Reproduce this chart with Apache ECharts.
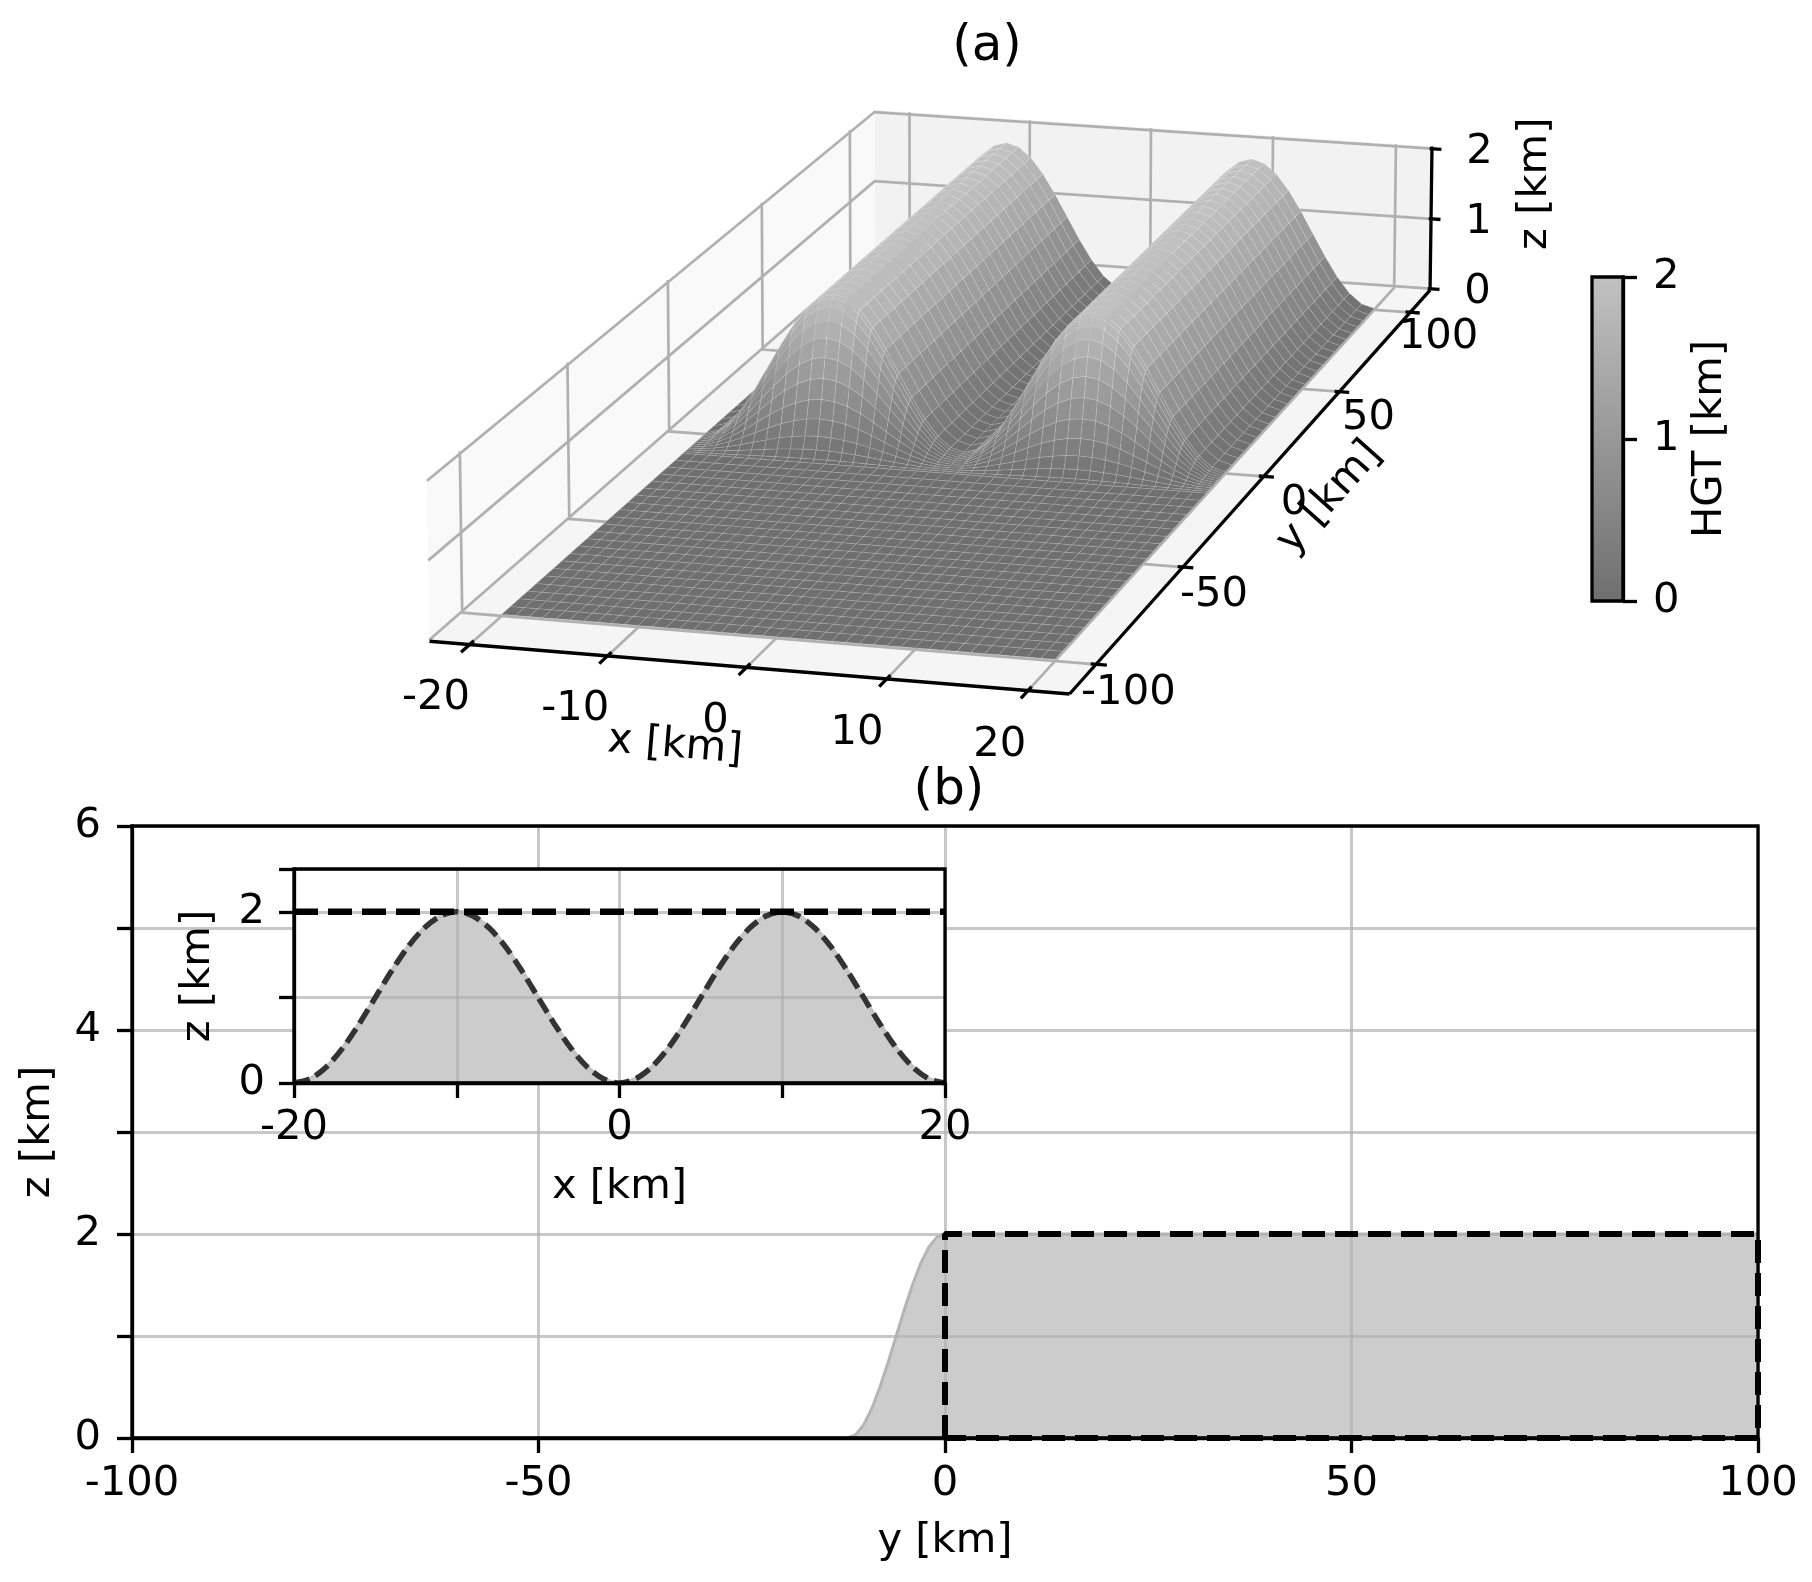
<!DOCTYPE html>
<html lang="en">
<head>
<meta charset="UTF-8" />
<title>Terrain (a) 3D view, (b) cross sections</title>
<script src="https://cdn.jsdelivr.net/npm/echarts@6.0.0/dist/echarts.min.js"></script>
<style>
  html, body { margin: 0; padding: 0; background: #ffffff; }
  #chart { width: 1812px; height: 1582px; }
</style>
</head>
<body>
<div id="chart"></div>
<script>
// ---------------- values ----------------
// cross-ridge profile (inset of b): x [km] -> height [km]
var ridgeX = [-20, -19, -18, -17, -16, -15, -14, -13, -12, -11, -10, -9, -8, -7, -6, -5, -4, -3, -2, -1, 0,
              1, 2, 3, 4, 5, 6, 7, 8, 9, 10, 11, 12, 13, 14, 15, 16, 17, 18, 19, 20];
var ridgeH = [0, 0.05, 0.19, 0.41, 0.69, 1.0, 1.31, 1.59, 1.81, 1.95, 2.0, 1.95, 1.81, 1.59, 1.31, 1.0, 0.69, 0.41, 0.19, 0.05, 0,
              0.05, 0.19, 0.41, 0.69, 1.0, 1.31, 1.59, 1.81, 1.95, 2.0, 1.95, 1.81, 1.59, 1.31, 1.0, 0.69, 0.41, 0.19, 0.05, 0];
// along-ridge profile (b): y [km] -> height [km]
var rampY = [-100, -12, -11, -10, -9, -8, -7, -6, -5, -4, -3, -2, -1, 0, 100];
var rampH = [0, 0, 0.03, 0.13, 0.29, 0.5, 0.74, 1.0, 1.26, 1.5, 1.71, 1.87, 1.97, 2.0, 2.0];
var crestH = 2;
// dashed box of (b)
var boxY = [0, 0, 100, 100, 0];
var boxZ = [0, 2, 2, 0, 0];
// ticks of the 3D axes
var xTicks3d = [-20, -10, 0, 10, 20];
var yTicks3d = [-100, -50, 0, 50, 100];
var zTicks3d = [0, 1, 2];

// ---------------- 3D view (perspective like mplot3d) ----------------
var VIEW_ELEV = 15, VIEW_AZIM = -74.5, VIEW_DIST = 10;
var BOX = [0.68, 1.655, 0.17];
var xLim = [-22.92, 22.92], yLim = [-114.58, 114.58], zLim = [-0.02, 2.03];

var el = VIEW_ELEV * Math.PI / 180, az = VIEW_AZIM * Math.PI / 180;
var W = [Math.cos(el) * Math.cos(az), Math.cos(el) * Math.sin(az), Math.sin(el)];
var U = [-Math.sin(az), Math.cos(az), 0];
var V = [-Math.sin(el) * Math.cos(az), -Math.sin(el) * Math.sin(az), Math.cos(el)];

function proj(x, y, z) {
  var p = [((x - xLim[0]) / (xLim[1] - xLim[0]) - 0.5) * BOX[0],
           ((y - yLim[0]) / (yLim[1] - yLim[0]) - 0.5) * BOX[1],
           ((z - zLim[0]) / (zLim[1] - zLim[0]) - 0.5) * BOX[2]];
  var depth = VIEW_DIST - (p[0] * W[0] + p[1] * W[1] + p[2] * W[2]);
  return [(p[0] * U[0] + p[1] * U[1]) / depth,
          (p[0] * V[0] + p[1] * V[1] + p[2] * V[2]) / depth,
          depth];
}
function P(x, y, z) { var q = proj(x, y, z); return [q[0], q[1]]; }

// extent of the projected box -> hidden axes of the 3D grid
var uMin = Infinity, uMax = -Infinity, vMin = Infinity, vMax = -Infinity;
[xLim[0], xLim[1]].forEach(function (x) {
  [yLim[0], yLim[1]].forEach(function (y) {
    [zLim[0], zLim[1]].forEach(function (z) {
      var q = proj(x, y, z);
      uMin = Math.min(uMin, q[0]); uMax = Math.max(uMax, q[0]);
      vMin = Math.min(vMin, q[1]); vMax = Math.max(vMax, q[1]);
    });
  });
});

var x0 = xLim[0], x1 = xLim[1], y0 = yLim[0], y1 = yLim[1], z0 = zLim[0], z1 = zLim[1];
var gridGrey = '#b0b0b0';
var font = '"DejaVu Sans", sans-serif';
var tickFont = '41.7px ' + font;

// panes
var panes = [
  { pts: [P(x0, y0, z0), P(x0, y1, z0), P(x0, y1, z1), P(x0, y0, z1)], fill: '#f9f9f9' },
  { pts: [P(x0, y1, z0), P(x1, y1, z0), P(x1, y1, z1), P(x0, y1, z1)], fill: '#f2f2f2' },
  { pts: [P(x0, y0, z0), P(x1, y0, z0), P(x1, y1, z0), P(x0, y1, z0)], fill: '#f5f5f5' }
];

// grid lines on the panes
var paneLines = [];
xTicks3d.forEach(function (x) {
  paneLines.push({ pts: [P(x, y0, z0), P(x, y1, z0), P(x, y1, z1)], stroke: gridGrey, lw: 2.7 });
});
yTicks3d.forEach(function (y) {
  paneLines.push({ pts: [P(x1, y, z0), P(x0, y, z0), P(x0, y, z1)], stroke: gridGrey, lw: 2.7 });
});
zTicks3d.forEach(function (z) {
  paneLines.push({ pts: [P(x0, y0, z), P(x0, y1, z), P(x1, y1, z)], stroke: gridGrey, lw: 2.7 });
});

// axis lines, ticks and labels
var dX = (x1 - x0) / 12, dY = (y1 - y0) / 12;
var axes3d = [
  { pts: [P(x0, y0, z0), P(x1, y0, z0)], stroke: '#000', lw: 3.3 },
  { pts: [P(x1, y0, z0), P(x1, y1, z0)], stroke: '#000', lw: 3.3 },
  { pts: [P(x1, y1, z0), P(x1, y1, z1)], stroke: '#000', lw: 3.3 }
];
xTicks3d.forEach(function (x) {
  axes3d.push({ pts: [P(x, y0 - 0.2 * dY, z0), P(x, y0 + 0.1 * dY, z0)], stroke: '#000', lw: 3.3 });
  axes3d.push({ pts: [P(x, y0 - 15, z0 - 0.29)], text: String(x), font: tickFont });
});
yTicks3d.forEach(function (y) {
  axes3d.push({ pts: [P(x1 + 0.2 * dX, y, z0), P(x1 - 0.1 * dX, y, z0)], stroke: '#000', lw: 3.3 });
  axes3d.push({ pts: [P(x1 + 2.3, y, z0 - 0.33)], text: String(y), font: tickFont });
});
zTicks3d.forEach(function (z) {
  axes3d.push({ pts: [P(x1 + 0.2 * dX, y1, z), P(x1 - 0.05 * dX, y1, z)], stroke: '#000', lw: 3.3 });
  axes3d.push({ pts: [P(x1 + 3.85, y1, z)], text: String(z), font: tickFont });
});
axes3d.push({ pts: [P(0, y0 - 34, z0 - 0.1)], text: 'x [km]', font: tickFont, along: [P(x0, y0, z0), P(x1, y0, z0)] });
axes3d.push({ pts: [P(x1 + 5, 0, z0 - 0.22)], text: 'y [km]', font: tickFont, along: [P(x1, y0, z0), P(x1, y1, z0)] });
axes3d.push({ pts: [P(x1 + 8.4, y1, 1.6)], text: 'z [km]', font: tickFont, rot: Math.PI / 2 });

// surface cells
var cmapLo = 111, cmapSlope = 41;
function grey(z) { var g = Math.round(cmapLo + cmapSlope * z); return 'rgb(' + g + ',' + g + ',' + g + ')'; }

var surfRows = [];
for (var yy = rampY[0]; yy < rampY[1]; yy += 4) surfRows.push([yy, rampH[0] / crestH]);
for (var k = 1; k < rampY.length - 1; k++) surfRows.push([rampY[k], rampH[k] / crestH]);
for (var yy2 = rampY[rampY.length - 2] + 4; yy2 <= rampY[rampY.length - 1]; yy2 += 4) surfRows.push([yy2, rampH[rampH.length - 1] / crestH]);

var cells = [];
for (var r = 0; r < surfRows.length - 1; r++) {
  for (var c = 0; c < ridgeX.length - 1; c++) {
    var ya = surfRows[r][0], yb = surfRows[r + 1][0], fa = surfRows[r][1], fb = surfRows[r + 1][1];
    var xa = ridgeX[c], xb = ridgeX[c + 1], ha = ridgeH[c], hb = ridgeH[c + 1];
    var zs = [ha * fa, hb * fa, hb * fb, ha * fb];
    var q = [proj(xa, ya, zs[0]), proj(xb, ya, zs[1]), proj(xb, yb, zs[2]), proj(xa, yb, zs[3])];
    cells.push({
      pts: q.map(function (t) { return [t[0], t[1]]; }),
      fill: grey((zs[0] + zs[1] + zs[2] + zs[3]) / 4),
      stroke: 'rgba(255,255,255,0.16)', lw: 0.8,
      depth: (q[0][2] + q[1][2] + q[2][2] + q[3][2]) / 4
    });
  }
}
cells.sort(function (a, b) { return b.depth - a.depth; });

function shapeSeries(list, z) {
  return {
    type: 'custom', xAxisIndex: 2, yAxisIndex: 2, z: z, silent: true, animation: false, clip: false,
    data: list.map(function (s) { return s.pts[0]; }),
    renderItem: function (params, api) {
      var s = list[params.dataIndex];
      var pts = s.pts.map(function (p) { return api.coord(p); });
      if (s.text) {
        var rot = s.rot || 0;
        if (s.along) {
          var a = api.coord(s.along[0]), b = api.coord(s.along[1]);
          rot = -Math.atan2(b[1] - a[1], b[0] - a[0]);
        }
        return { type: 'text', x: pts[0][0], y: pts[0][1], rotation: rot, z2: params.dataIndex,
          style: { text: s.text, fill: '#000', font: s.font, align: 'center', verticalAlign: 'middle' } };
      }
      if (s.fill) {
        return { type: 'polygon', z2: params.dataIndex, shape: { points: pts },
          style: { fill: s.fill, stroke: s.stroke || null, lineWidth: s.lw || 0 } };
      }
      return { type: 'polyline', z2: params.dataIndex, shape: { points: pts },
        style: { stroke: s.stroke, lineWidth: s.lw, fill: null, lineCap: 'butt' } };
    }
  };
}

// ---------------- 2D panels ----------------
var gridLine = { show: true, lineStyle: { color: 'rgba(176,176,176,0.7)', width: 3 } };
var blackLine = { show: true, onZero: false, lineStyle: { color: '#000', width: 3.3 } };
var ticks = { show: true, inside: false, length: 15, lineStyle: { color: '#000', width: 3.3 } };
var labelStyle = { color: '#000', fontSize: 41.7, fontFamily: font };
var nameStyle = { color: '#000', fontSize: 41.7, fontFamily: font };

var mainRect = { left: 132, top: 826, width: 1626, height: 612 };
var insetRect = { left: 294, top: 869, width: 651, height: 214 };

var option = {
  backgroundColor: '#ffffff',
  animation: false,
  grid: [
    Object.assign({ show: false, outerBoundsMode: 'none' }, mainRect),
    Object.assign({ show: true, backgroundColor: '#ffffff', borderWidth: 0, z: 6, outerBoundsMode: 'none' }, insetRect),
    { left: 427, top: 110, width: 1005, height: 584, show: false, outerBoundsMode: 'none' },
    { left: 1592, top: 277, width: 31, height: 324, show: true, borderColor: '#000', borderWidth: 3.3, z: 3, outerBoundsMode: 'none' },
    // frames drawn above the grid lines
    Object.assign({ show: true, borderColor: '#000', borderWidth: 3.3, z: 5, outerBoundsMode: 'none' }, mainRect),
    Object.assign({ show: true, borderColor: '#000', borderWidth: 3.3, z: 10, outerBoundsMode: 'none' }, insetRect)
  ],
  xAxis: [
    { gridIndex: 0, type: 'value', min: -100, max: 100, interval: 50, z: 3,
      axisLine: blackLine, axisTick: ticks, splitLine: gridLine,
      axisLabel: Object.assign({ margin: 25 }, labelStyle),
      name: 'y [km]', nameLocation: 'middle', nameGap: 82, nameTextStyle: nameStyle },
    { gridIndex: 1, type: 'value', min: -20, max: 20, interval: 10, z: 8,
      axisLine: blackLine, axisTick: ticks, splitLine: gridLine,
      axisLabel: Object.assign({ margin: 24, formatter: function (v) { return v % 20 === 0 ? String(v) : ''; } }, labelStyle),
      name: 'x [km]', nameLocation: 'middle', nameGap: 83, nameTextStyle: nameStyle },
    { gridIndex: 2, type: 'value', min: uMin, max: uMax, show: false },
    { gridIndex: 3, type: 'value', min: 0, max: 1, show: false }
  ],
  yAxis: [
    { gridIndex: 0, type: 'value', min: 0, max: 6, interval: 1, z: 3,
      axisLine: blackLine, axisTick: ticks, splitLine: gridLine,
      axisLabel: Object.assign({ margin: 31, formatter: function (v) { return v % 2 === 0 ? String(v) : ''; } }, labelStyle),
      name: 'z [km]', nameLocation: 'middle', nameGap: 73, nameRotate: 90, nameTextStyle: nameStyle },
    { gridIndex: 1, type: 'value', min: 0, max: 2.5, interval: 1, z: 8,
      axisLine: blackLine, axisTick: ticks, splitLine: gridLine,
      axisLabel: Object.assign({ margin: 29, formatter: function (v) { return (v === 0 || v === 2) ? String(v) : ''; } }, labelStyle),
      name: 'z [km]', nameLocation: 'middle', nameGap: 75, nameRotate: 90, nameTextStyle: nameStyle },
    { gridIndex: 2, type: 'value', min: vMin, max: vMax, show: false },
    { gridIndex: 3, type: 'value', min: 0, max: 2, interval: 1, position: 'right', z: 4,
      axisLine: blackLine, axisTick: { show: true, inside: false, length: 14, lineStyle: { color: '#000', width: 3.3 } },
      splitLine: { show: false },
      axisLabel: Object.assign({ margin: 30 }, labelStyle),
      name: 'HGT [km]', nameLocation: 'middle', nameGap: 66, nameRotate: 90, nameTextStyle: nameStyle }
  ],
  graphic: [
    { type: 'text', x: 987, y: 47, style: { text: '(a)', font: '50px ' + font, fill: '#000', align: 'center', verticalAlign: 'middle' } },
    { type: 'text', x: 949, y: 791, style: { text: '(b)', font: '50px ' + font, fill: '#000', align: 'center', verticalAlign: 'middle' } }
  ],
  series: [
    // (b) main: terrain along y
    { type: 'line', xAxisIndex: 0, yAxisIndex: 0, z: 2, silent: true, symbol: 'none',
      data: rampY.map(function (y, i) { return [y, rampH[i]]; }),
      lineStyle: { color: '#b5b5b5', width: 3 }, areaStyle: { color: '#cccccc', opacity: 1 } },
    { type: 'line', xAxisIndex: 0, yAxisIndex: 0, z: 5, silent: true, symbol: 'none', clip: false,
      data: boxY.map(function (y, i) { return [y, boxZ[i]]; }),
      lineStyle: { color: '#000', width: 6, type: [23, 10] } },
    // (b) inset: terrain across x
    { type: 'line', xAxisIndex: 1, yAxisIndex: 1, z: 7, silent: true, symbol: 'none', smooth: 0.3,
      data: ridgeX.map(function (x, i) { return [x, ridgeH[i]]; }),
      lineStyle: { color: '#c4c4c4', width: 4 }, areaStyle: { color: '#cccccc', opacity: 1 } },
    { type: 'line', xAxisIndex: 1, yAxisIndex: 1, z: 9, silent: true, symbol: 'none', smooth: 0.3,
      data: ridgeX.map(function (x, i) { return [x, ridgeH[i]]; }),
      lineStyle: { color: '#333333', width: 5.5, type: [16, 7] } },
    { type: 'line', xAxisIndex: 1, yAxisIndex: 1, z: 9, silent: true, symbol: 'none', clip: false,
      data: [[ridgeX[0], crestH], [ridgeX[ridgeX.length - 1], crestH]],
      lineStyle: { color: '#000', width: 6.5, type: [24, 10] } },
    // colour bar
    { type: 'custom', xAxisIndex: 3, yAxisIndex: 3, z: 2, silent: true,
      data: [[0, 0, 1, crestH]],
      renderItem: function (params, api) {
        var a = api.coord([api.value(0), api.value(1)]);
        var b = api.coord([api.value(2), api.value(3)]);
        return { type: 'rect', shape: { x: a[0], y: b[1], width: b[0] - a[0], height: a[1] - b[1] },
          style: { fill: new echarts.graphic.LinearGradient(0, 1, 0, 0, [
            { offset: 0, color: grey(0) }, { offset: 1, color: grey(crestH) }]) } };
      } },
    // (a) 3D view
    shapeSeries(panes, 1),
    shapeSeries(paneLines, 2),
    shapeSeries(axes3d, 3),
    shapeSeries(cells, 4)
  ]
};

var chart = echarts.init(document.getElementById('chart'));
chart.setOption(option);
</script>
</body>
</html>
